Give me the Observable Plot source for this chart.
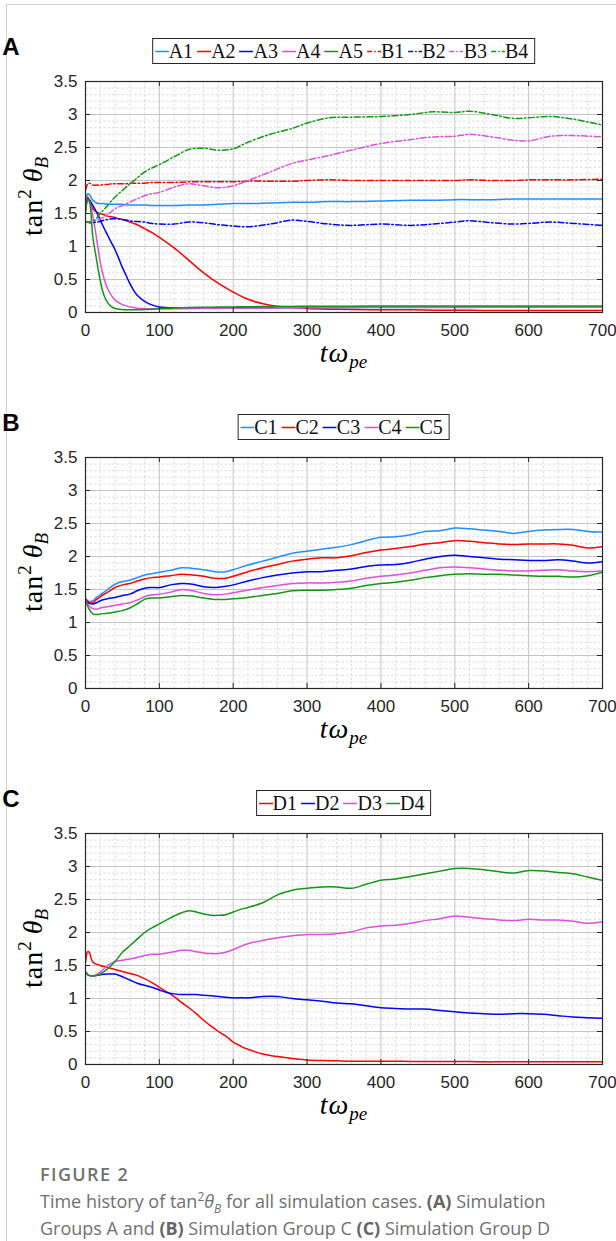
<!DOCTYPE html>
<html><head><meta charset="utf-8">
<script src="https://cdn.jsdelivr.net/npm/d3@7"></script>
<script src="https://cdn.jsdelivr.net/npm/@observablehq/plot@0.6"></script>
<style>
body{margin:0;background:#fff;}
#fig{position:relative;width:616px;height:1241px;overflow:hidden;background:#fff;}
.bordL{position:absolute;left:6px;top:4px;width:1px;height:1237px;background:#cfcfcf;}
.bordT{position:absolute;left:6px;top:4px;width:610px;height:1px;background:#cfcfcf;}
.panel{position:absolute;left:0;width:616px;height:376px;}
.panel svg.plot{position:absolute;left:0;top:0;}
.legend{position:absolute;top:38px;transform:translateX(-50%);border:1px solid #262626;background:#fff;display:flex;align-items:center;height:24px;padding:0 3px 0 1px;font-family:"Liberation Serif",serif;font-size:20px;color:#111;white-space:nowrap;box-sizing:content-box;}
.legend svg{display:block}
.legend span{margin-right:3px;line-height:24px}
.cap{position:absolute;left:40px;font-family:"Open Sans",sans-serif;color:#707070;}
.cap1{top:1162px;font-size:18px;font-weight:600;letter-spacing:1.4px;}
.cap2{top:1188px;font-size:18px;line-height:27px;}
.cap2 b{font-weight:700;color:#666;}
</style></head>
<body>
<div id="fig">
<div class="bordL"></div><div class="bordT"></div>
<div class="cap cap1">FIGURE 2</div>
<div class="cap cap2">Time history of tan<sup style="font-size:12px;line-height:0">2</sup><i>θ</i><sub style="font-size:12px;line-height:0"><i>B</i></sub> for all simulation cases. <b>(A)</b> Simulation<br>Groups A and <b>(B)</b> Simulation Group C <b>(C)</b> Simulation Group D</div>
</div>
<script>
// ---------- axis ticks ----------
const xTicks = [0,100,200,300,400,500,600,700];
const yTicks = [0,0.5,1,1.5,2,2.5,3,3.5];
const xMinor = [20,40,60,80,120,140,160,180,220,240,260,280,320,340,360,380,420,440,460,480,520,540,560,580,620,640,660,680];
const yMinor = [0.1,0.2,0.3,0.4,0.6,0.7,0.8,0.9,1.1,1.2,1.3,1.4,1.6,1.7,1.8,1.9,2.1,2.2,2.3,2.4,2.6,2.7,2.8,2.9,3.1,3.2,3.3,3.4];

// ---------- panel A data ----------
const tA = [0,3,5,10,15,20,25,30,35,40,45,50,55,60,65,70,80,90,100,120,140,160,180,200,220,250,280,300,330,360,400,440,470,500,520,550,580,600,630,660,700];
const A1 = [1.70,1.80,1.79,1.70,1.66,1.65,1.65,1.64,1.64,1.64,1.64,1.64,1.63,1.63,1.63,1.63,1.63,1.62,1.62,1.62,1.63,1.63,1.64,1.65,1.65,1.66,1.67,1.67,1.68,1.68,1.69,1.70,1.70,1.71,1.71,1.71,1.72,1.72,1.72,1.72,1.72];
const A2 = [1.55,1.75,1.70,1.57,1.52,1.50,1.48,1.46,1.45,1.44,1.42,1.41,1.39,1.37,1.35,1.33,1.27,1.21,1.14,0.98,0.79,0.60,0.44,0.31,0.20,0.11,0.075,0.06,0.05,0.045,0.04,0.04,0.035,0.035,0.035,0.03,0.03,0.03,0.03,0.03,0.03];
const A3 = [1.55,1.72,1.71,1.62,1.52,1.40,1.28,1.17,1.06,0.95,0.82,0.68,0.56,0.44,0.34,0.26,0.17,0.115,0.085,0.07,0.068,0.068,0.07,0.07,0.072,0.073,0.075,0.075,0.076,0.077,0.078,0.078,0.079,0.079,0.08,0.08,0.08,0.08,0.08,0.08,0.08];
const A4 = [1.55,1.68,1.68,1.45,1.12,0.76,0.52,0.36,0.26,0.19,0.15,0.12,0.10,0.085,0.075,0.065,0.06,0.055,0.055,0.055,0.058,0.06,0.062,0.065,0.067,0.07,0.072,0.073,0.074,0.075,0.076,0.076,0.077,0.077,0.077,0.078,0.078,0.078,0.078,0.078,0.078];
const A5 = [1.50,1.72,1.70,1.14,0.80,0.48,0.26,0.15,0.09,0.06,0.05,0.045,0.04,0.04,0.04,0.04,0.045,0.05,0.06,0.07,0.075,0.08,0.082,0.085,0.087,0.09,0.092,0.094,0.095,0.096,0.097,0.098,0.098,0.099,0.099,0.10,0.10,0.10,0.10,0.10,0.10];
const B1 = [1.85,1.95,1.96,1.93,1.93,1.93,1.94,1.94,1.95,1.95,1.95,1.95,1.95,1.96,1.96,1.96,1.96,1.97,1.97,1.97,1.98,1.98,1.98,1.98,1.99,1.99,1.99,2.00,2.01,2.00,2.00,2.00,2.00,2.00,2.01,2.00,2.00,2.01,2.01,2.01,2.02];
const B2 = [1.37,1.37,1.36,1.36,1.37,1.38,1.40,1.41,1.42,1.42,1.42,1.41,1.40,1.39,1.38,1.38,1.37,1.35,1.34,1.34,1.37,1.36,1.33,1.31,1.30,1.34,1.40,1.38,1.34,1.32,1.34,1.32,1.34,1.37,1.39,1.36,1.34,1.35,1.37,1.35,1.32];
const B3 = [1.37,1.37,1.37,1.38,1.40,1.42,1.45,1.49,1.53,1.57,1.60,1.62,1.65,1.67,1.70,1.72,1.77,1.80,1.82,1.90,1.95,1.92,1.89,1.92,2.00,2.13,2.26,2.31,2.38,2.46,2.56,2.62,2.66,2.67,2.70,2.66,2.61,2.60,2.67,2.68,2.66];
const B4 = [1.37,1.37,1.37,1.38,1.43,1.50,1.56,1.62,1.69,1.75,1.80,1.85,1.90,1.95,1.99,2.04,2.13,2.19,2.24,2.36,2.47,2.49,2.46,2.48,2.58,2.70,2.79,2.87,2.95,2.96,2.97,3.00,3.04,3.03,3.05,3.00,2.94,2.95,2.97,2.93,2.84];
const namesA = ["A1","A2","A3","A4","A5","B1","B2","B3","B4"];

// ---------- panel B data ----------
const tB = [0,5,10,15,20,30,40,50,60,70,80,90,100,115,130,145,160,175,190,200,220,240,260,280,300,320,340,360,380,400,420,440,460,480,500,520,540,560,580,600,620,640,660,680,700];
const C1 = [1.36,1.32,1.33,1.38,1.42,1.50,1.58,1.62,1.64,1.68,1.72,1.74,1.76,1.79,1.83,1.82,1.80,1.77,1.77,1.80,1.87,1.93,1.99,2.05,2.08,2.11,2.14,2.18,2.24,2.29,2.30,2.33,2.38,2.39,2.43,2.42,2.40,2.38,2.35,2.38,2.40,2.41,2.41,2.38,2.37];
const C2 = [1.36,1.30,1.30,1.35,1.39,1.46,1.53,1.57,1.59,1.63,1.66,1.68,1.69,1.71,1.73,1.72,1.70,1.67,1.67,1.70,1.77,1.83,1.88,1.93,1.96,1.98,1.98,2.01,2.06,2.10,2.12,2.15,2.19,2.21,2.24,2.23,2.21,2.19,2.18,2.19,2.19,2.19,2.17,2.13,2.15];
const C3 = [1.33,1.29,1.28,1.30,1.33,1.36,1.38,1.41,1.43,1.48,1.52,1.53,1.53,1.57,1.59,1.58,1.54,1.53,1.55,1.57,1.63,1.68,1.72,1.75,1.77,1.77,1.79,1.81,1.85,1.87,1.88,1.91,1.96,2.00,2.02,2.00,1.98,1.96,1.95,1.94,1.94,1.95,1.93,1.90,1.92];
const C4 = [1.33,1.25,1.21,1.20,1.22,1.24,1.26,1.28,1.30,1.34,1.39,1.42,1.43,1.46,1.50,1.48,1.44,1.42,1.43,1.45,1.49,1.53,1.56,1.59,1.60,1.60,1.61,1.63,1.67,1.70,1.72,1.75,1.79,1.83,1.84,1.83,1.81,1.79,1.78,1.78,1.79,1.80,1.78,1.77,1.78];
const C5 = [1.33,1.20,1.13,1.12,1.13,1.14,1.16,1.18,1.22,1.28,1.35,1.37,1.37,1.39,1.41,1.40,1.37,1.35,1.35,1.36,1.38,1.41,1.44,1.48,1.49,1.49,1.50,1.52,1.56,1.59,1.61,1.64,1.68,1.71,1.73,1.74,1.73,1.73,1.72,1.71,1.70,1.70,1.69,1.71,1.76];
const namesB = ["C1","C2","C3","C4","C5"];

// ---------- panel C data ----------
const tC = [0,3,5,10,20,30,40,50,60,70,80,90,100,110,120,130,140,150,160,170,180,190,200,210,220,240,260,280,300,320,340,360,380,400,420,440,460,480,500,520,540,560,580,600,620,640,660,680,700];
const D1 = [1.55,1.71,1.70,1.55,1.50,1.47,1.44,1.41,1.38,1.35,1.30,1.24,1.17,1.10,1.03,0.94,0.86,0.77,0.67,0.58,0.50,0.43,0.34,0.28,0.23,0.16,0.12,0.09,0.07,0.06,0.055,0.05,0.05,0.05,0.05,0.045,0.045,0.045,0.045,0.045,0.04,0.04,0.04,0.04,0.04,0.04,0.04,0.04,0.04];
const D2 = [1.40,1.36,1.35,1.34,1.36,1.37,1.37,1.33,1.28,1.23,1.20,1.17,1.13,1.09,1.07,1.06,1.06,1.06,1.05,1.04,1.03,1.02,1.01,1.01,1.01,1.03,1.03,1.00,0.98,0.96,0.93,0.92,0.89,0.86,0.85,0.84,0.84,0.82,0.80,0.78,0.77,0.76,0.77,0.77,0.76,0.74,0.72,0.71,0.70];
const D3 = [1.41,1.37,1.35,1.34,1.40,1.50,1.56,1.58,1.60,1.62,1.65,1.67,1.67,1.69,1.71,1.73,1.73,1.71,1.69,1.68,1.68,1.70,1.74,1.79,1.83,1.88,1.92,1.95,1.97,1.97,1.98,2.01,2.07,2.10,2.11,2.14,2.18,2.21,2.25,2.23,2.21,2.19,2.18,2.20,2.19,2.19,2.17,2.14,2.16];
const D4 = [1.40,1.36,1.35,1.34,1.37,1.45,1.56,1.70,1.80,1.90,2.00,2.07,2.13,2.19,2.25,2.30,2.33,2.31,2.28,2.26,2.26,2.27,2.31,2.35,2.38,2.45,2.57,2.64,2.67,2.69,2.69,2.67,2.73,2.79,2.81,2.85,2.89,2.93,2.97,2.97,2.95,2.92,2.90,2.94,2.93,2.91,2.89,2.84,2.79];
const namesC = ["D1","D2","D3","D4"];

// ---------- styles ----------
const LBLUE = "#1f8fff", RED = "#ff0000", BLUE = "#0000ff", MAG = "#dd4fdd", GREEN = "#149614";
const DASHDOT = "6,2.5,1.5,2.5";
const styleOf = {
  A1:[LBLUE,null],A2:[RED,null],A3:[BLUE,null],A4:[MAG,null],A5:[GREEN,null],
  B1:[RED,DASHDOT],B2:[BLUE,DASHDOT],B3:[MAG,DASHDOT],B4:[GREEN,DASHDOT],
  C1:[LBLUE,null],C2:[RED,null],C3:[BLUE,null],C4:[MAG,null],C5:[GREEN,null],
  D1:[RED,null],D2:[BLUE,null],D3:[MAG,null],D4:[GREEN,null]
};

const W = 616, H = 376, ML = 85, MR = 14, MT = 81, MB = 64;
const TICK_PX = 5;

function makePanel(letter, tArr, names, valsList, top) {
  const fig = document.getElementById("fig");
  const div = document.createElement("div");
  div.className = "panel";
  div.style.top = top + "px";
  fig.appendChild(div);

  const tyLen = 3.5 * TICK_PX / (H - MT - MB);
  const txLen = 700 * TICK_PX / (W - ML - MR);
  const gridMinor = {stroke:"#dcdcdc", strokeOpacity:1, strokeWidth:1, strokeDasharray:"2.5,2"};
  const gridMajor = {stroke:"#c4c4c4", strokeOpacity:1, strokeWidth:1};
  const tickSty = {stroke:"#262626", strokeWidth:1};

  const lines = names.map((n, k) => {
    const [c, dash] = styleOf[n];
    const rows = tArr.map((t, i) => ({t, v: valsList[k][i]}));
    return Plot.line(rows, {x:"t", y:"v", stroke:c, strokeWidth:1.5, strokeDasharray: dash || undefined, curve:"catmull-rom", clip:true});
  });

  const svg = Plot.plot({
    width: W, height: H, marginLeft: ML, marginRight: MR, marginTop: MT, marginBottom: MB,
    style: {fontFamily: "'Liberation Sans', Arial, sans-serif", fontSize: "17px", color: "#262626", background: "transparent", overflow: "visible"},
    x: {domain: [0, 700]},
    y: {domain: [0, 3.5]},
    marks: [
      Plot.ruleX(xMinor, gridMinor),
      Plot.ruleY(yMinor, gridMinor),
      Plot.ruleX(xTicks, gridMajor),
      Plot.ruleY(yTicks, gridMajor),
      ...lines,
      Plot.ruleX(xTicks, {...tickSty, y1: 0, y2: tyLen}),
      Plot.ruleX(xTicks, {...tickSty, y1: 3.5 - tyLen, y2: 3.5}),
      Plot.ruleY(yTicks, {...tickSty, x1: 0, x2: txLen}),
      Plot.ruleY(yTicks, {...tickSty, x1: 700 - txLen, x2: 700}),
      Plot.frame({stroke: "#262626", strokeWidth: 1.2}),
      Plot.axisX(xTicks, {tickSize: 0, tickPadding: 11, tickFormat: d => String(d), label: null, fontSize: 17, fill: "#262626"}),
      Plot.axisY(yTicks, {tickSize: 0, tickPadding: 8, tickFormat: d => String(d), label: null, fontSize: 17, fill: "#262626"})
    ]
  });
  svg.classList.add("plot");
  div.appendChild(svg);

  const s = d3.select(svg);
  // panel letter
  s.append("text").attr("x", 11).attr("y", 55)
    .attr("font-family", "'Liberation Sans', Arial, sans-serif").attr("font-weight", "bold")
    .attr("font-size", 24).attr("fill", "#000").text(letter);
  // y label
  const yl = s.append("text")
    .attr("transform", `translate(42,${(MT + H - MB) / 2}) rotate(-90)`)
    .attr("text-anchor", "middle")
    .attr("font-family", "'Liberation Serif', serif").attr("font-size", 28).attr("fill", "#000");
  yl.append("tspan").attr("letter-spacing", 1).text("tan");
  yl.append("tspan").attr("font-size", 19).attr("dy", -11).text("2");
  yl.append("tspan").attr("dy", 11).attr("font-style", "italic").text("\u2005θ");
  yl.append("tspan").attr("font-size", 19).attr("dy", 6).attr("font-style", "italic").text("B");
  // x label
  const xl = s.append("text")
    .attr("x", (ML + W - MR) / 2).attr("y", H - MB + 50)
    .attr("text-anchor", "middle")
    .attr("font-family", "'Liberation Serif', serif").attr("font-size", 28)
    .attr("font-style", "italic").attr("fill", "#000");
  xl.append("tspan").attr("letter-spacing", 1).text("tω");
  xl.append("tspan").attr("font-size", 19).attr("dy", 6).text("pe");

  // legend (HTML, above plot)
  const lg = document.createElement("div");
  lg.className = "legend";
  lg.style.left = ((ML + W - MR) / 2) + "px";
  names.forEach(n => {
    const [c, dash] = styleOf[n];
    const sw = d3.create("svg").attr("width", 15).attr("height", 20);
    sw.append("line").attr("x1", 1).attr("x2", 15).attr("y1", 10.5).attr("y2", 10.5)
      .attr("stroke", c).attr("stroke-width", 1.5)
      .attr("stroke-dasharray", dash ? "5,2,1.5,2" : null);
    lg.appendChild(sw.node());
    const sp = document.createElement("span");
    sp.textContent = n;
    lg.appendChild(sp);
  });
  div.appendChild(lg);
}

makePanel("A", tA, namesA, [A1,A2,A3,A4,A5,B1,B2,B3,B4], 0);
makePanel("B", tB, namesB, [C1,C2,C3,C4,C5], 376);
makePanel("C", tC, namesC, [D1,D2,D3,D4], 752);
</script>
</body></html>
